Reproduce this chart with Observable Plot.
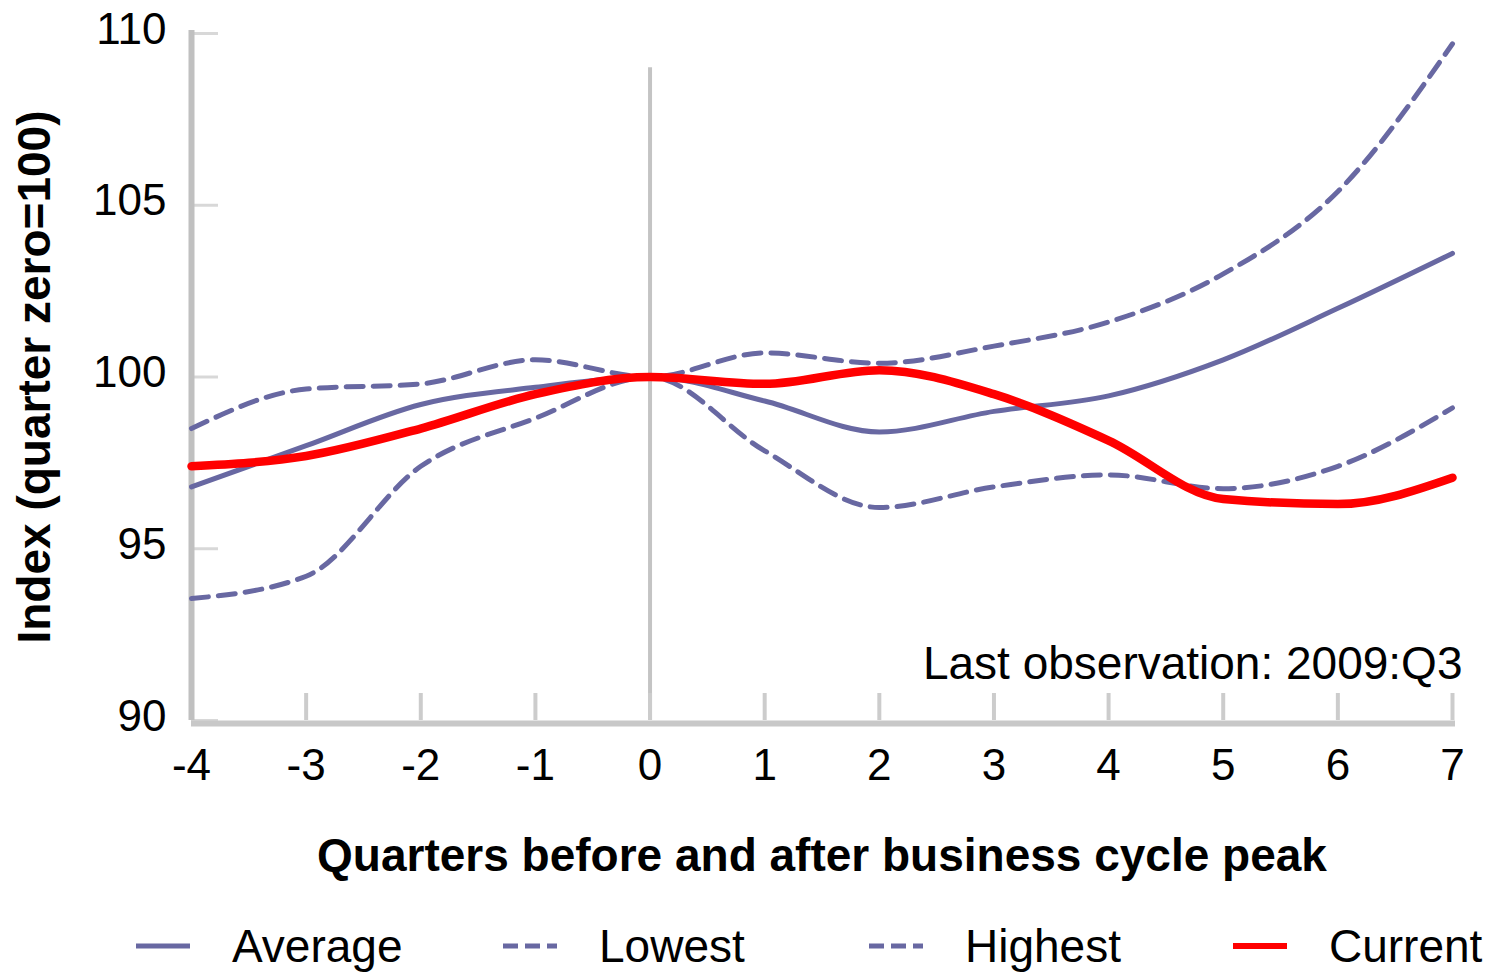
<!DOCTYPE html>
<html>
<head>
<meta charset="utf-8">
<script src="https://cdn.jsdelivr.net/npm/d3@7"></script>
<script src="https://cdn.jsdelivr.net/npm/@observablehq/plot@0.6"></script>
<style>
  html, body { margin: 0; padding: 0; background: #fff; }
  body { width: 1486px; height: 976px; overflow: hidden; font-family: "Liberation Sans", Arial, sans-serif; }
  #legend { position: relative; width: 1486px; height: 76px; }
  .item { position: absolute; top: 0; height: 76px; display: flex; align-items: center; font-size: 46px; color: #000; }
  .item svg { margin-right: 42px; }
</style>
</head>
<body>
<div id="chart"></div>
<div id="legend"></div>
<script>
const quarters = [-4, -3, -2, -1, 0, 1, 2, 3, 4, 5, 6, 7];
const average  = [96.8, 98.0, 99.2, 99.7, 100, 99.3, 98.4, 99.0, 99.45, 100.5, 102.0, 103.6];
const lowest   = [93.55, 94.2, 97.4, 98.8, 100, 97.85, 96.2, 96.8, 97.15, 96.75, 97.4, 99.1];
const highest  = [98.5, 99.65, 99.8, 100.5, 100, 100.7, 100.4, 100.9, 101.6, 103.0, 105.4, 109.7];
const current  = [97.4, 97.7, 98.5, 99.5, 100, 99.8, 100.2, 99.5, 98.15, 96.45, 96.3, 97.07];
const yTicks = [90, 95, 100, 105, 110];
const seriesNames = ["Average", "Lowest", "Highest", "Current"];
const note = "Last observation: 2009:Q3";
const xLabel = "Quarters before and after business cycle peak";
const yLabel = "Index (quarter zero=100)";

const purple = "#6868a2";
const red = "#ff0000";
const styles = {
  Average: {stroke: purple, strokeWidth: 5, dash: null},
  Lowest: {stroke: purple, strokeWidth: 5, dash: "17,10"},
  Highest: {stroke: purple, strokeWidth: 5, dash: "17,10"},
  Current: {stroke: red, strokeWidth: 8.5, dash: null}
};
const seriesValues = {Average: average, Lowest: lowest, Highest: highest, Current: current};
const table = name => quarters.map((q, i) => ({q, v: seriesValues[name][i]}));

const lineMark = name => Plot.line(table(name), {
  x: "q", y: "v", curve: "monotone-x",
  stroke: styles[name].stroke, strokeWidth: styles[name].strokeWidth,
  strokeDasharray: styles[name].dash, strokeLinejoin: "round"
});

const chart = Plot.plot({
  width: 1486,
  height: 900,
  marginLeft: 191,
  marginRight: 34,
  marginTop: 33,
  marginBottom: 180,
  style: {fontFamily: "'Liberation Sans', Arial, sans-serif", color: "#000", background: "#fff"},
  x: {domain: [-4, 7]},
  y: {domain: [90, 110]},
  marks: [
    Plot.ruleX([0], {y1: 90, y2: 109, stroke: "#c4c4c4", strokeWidth: 4}),
    Plot.axisY({ticks: yTicks, tickSize: -27, tickFormat: () => "", label: null, stroke: "#d8d8d8", strokeWidth: 3}),
    Plot.axisX({ticks: quarters, tickSize: -27, tickFormat: () => "", label: null, stroke: "#cccccc", strokeWidth: 4}),
    Plot.ruleX([-4], {stroke: "#c0c0c0", strokeWidth: 6, insetTop: -3}),
    Plot.ruleY([90], {stroke: "#c8c8c8", strokeWidth: 6, dy: 3, insetRight: -3}),
    // tick labels
    Plot.axisY({ticks: yTicks, tickSize: 0, tickPadding: 25, fontSize: 44, dy: -4, label: null}),
    Plot.axisX({ticks: quarters, tickSize: 0, tickPadding: 28, fontSize: 44,
      tickFormat: d => String(d), label: null}),
    // axis titles (bold)
    Plot.axisY({ticks: [], tickSize: 0, fontSize: 46, fontWeight: "bold",
      label: yLabel, labelAnchor: "center", labelOffset: 174, labelArrow: "none"}),
    Plot.axisX({ticks: [], tickSize: 0, fontSize: 46, fontWeight: "bold",
      label: xLabel, labelAnchor: "center", labelOffset: 150, labelArrow: "none"}),
    lineMark("Lowest"),
    lineMark("Highest"),
    lineMark("Average"),
    lineMark("Current"),
    Plot.text([note], {frameAnchor: "bottom-right", textAnchor: "end", lineAnchor: "bottom",
      dx: 10, dy: -42, fontSize: 46, fill: "#000"})
  ]
});
document.getElementById("chart").appendChild(chart);

const legendLeft = {Average: 136, Lowest: 503, Highest: 869, Current: 1233};
const legend = document.getElementById("legend");
for (const name of seriesNames) {
  const s = styles[name];
  const item = document.createElement("div");
  item.className = "item";
  item.style.left = legendLeft[name] + "px";
  item.style.top = "8px";
  const dash = s.dash ? ` stroke-dasharray="15,7"` : "";
  item.innerHTML = `<svg width="54" height="20"><line x1="0" y1="10" x2="54" y2="10" stroke="${s.stroke}" stroke-width="${name === "Current" ? 6 : 5}"${dash}/></svg><span>${name}</span>`;
  legend.appendChild(item);
}
</script>
</body>
</html>
